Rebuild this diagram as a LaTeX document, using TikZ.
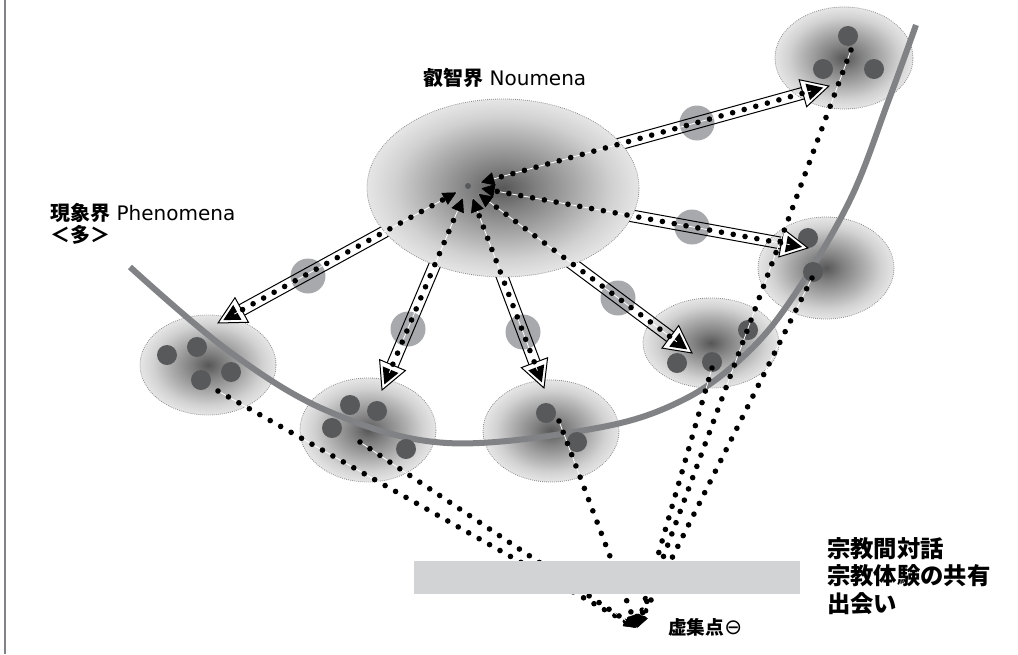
\documentclass[tikz,border=0pt]{standalone}
\usepackage{fontspec}
\setmainfont{DejaVu Sans}
\newfontfamily\jp{Noto Sans CJK JP}
\usetikzlibrary{arrows.meta,decorations.markings,calc}

\definecolor{pika}{HTML}{58595B}
\definecolor{krog}{HTML}{A7A9AC}
\definecolor{krivulja}{HTML}{808285}
\definecolor{pas}{HTML}{D1D3D4}

\pgfdeclareradialshading{megla}{\pgfpointorigin}{color(0bp)=(black!66); color(6bp)=(black!50); color(14bp)=(black!32); color(20bp)=(black!18); color(25bp)=(black!10); color(50bp)=(black!10)}

\tikzset{
  oblak/.style={shading=megla, draw=black!45, line width=0.6pt, dash pattern=on 0.6pt off 0.9pt},
  pikice/.style={line width=4.2pt, line cap=round, dash pattern=on 0pt off 9pt,
    preaction={draw=white, line width=0.6pt, solid, arrows=-}},
  puscica/.style={decoration={markings, mark=at position 0.9999 with {
      \pgfmathsetlengthmacro\dolzina{\pgfdecoratedpathlength}
      \draw[line width=0.75pt] (-\dolzina,4.4pt) -- (-20.25pt,4.4pt)
                               (-\dolzina,-4.4pt) -- (-20.25pt,-4.4pt);
      \draw[line width=0.75pt, fill=white] (0,0) -- (-27,14) -- (-27,-14) -- cycle;
      \fill (-6,0) -- (-22,8.5) -- (-22,-8.5) -- cycle;}}, decorate}
}

\begin{document}
\begin{tikzpicture}[x=0.75pt,y=-0.75pt]
\useasboundingbox (0,0) rectangle (1018,654);

\coordinate (nou) at (468,186);
\coordinate (t1) at (218,323);
\coordinate (t2) at (382,390);
\coordinate (t3) at (544,388);
\coordinate (t4) at (692,353);
\coordinate (t5) at (808,248);
\coordinate (t6) at (829,86);

% zacetki crt proti goriscu
\coordinate (z1) at (218,391);
\coordinate (z2) at (360,442);
\coordinate (z3) at (559,421);
\coordinate (z4) at (712,368);
\coordinate (z5) at (812,278);
\coordinate (z6) at (851,50);
\coordinate (f) at (637,628);

\draw[krivulja, line width=1.5pt] (5,0) -- (5,654);

\foreach \x/\y/\a/\b in {208/365/68/50, 368/430/68/52, 551/431/68/51, 711/343/68/45, 826/268/68/51, 844/58/69/51}
  \shadedraw[oblak] (\x,\y) ellipse ({\a} and {\b});

\draw[krivulja, line width=4.5pt] plot[smooth, tension=0.6] coordinates {(130,267) (230,352) (330,412) (447,443) (597,428) (683,400) (745,355) (793,297) (850,200) (888,102) (916,25)};

\foreach \p in {(167,355),(197,347),(201,380),(231,372),(350,405),(377,411),(332,428),(406,449),(546,413),(577,442),(677,363),(712,362),(748,330),(808,238),(813,272),(848,36),(823,69),(874,69)}
  \fill[pika] \p circle (10);

\foreach \p in {(308,276),(408,329),(523,332),(618,298),(697,123),(692,227)}
  \fill[krog] \p circle (17.5);

\foreach \i in {1,...,6}
  \path[puscica] (nou) -- (t\i);

\shadedraw[oblak] (503,188) ellipse (136 and 89);
\fill[pika] (nou) circle (3);

\foreach \i in {1,...,6}
  \draw[pikice, -{Triangle[length=10pt,width=10pt,line width=0.4pt]}] ($(t\i)!12pt!(nou)$) -- ($(nou)!10pt!(t\i)$);

\foreach \i in {1,...,6}
  \draw[pikice, -{Triangle[length=10pt,width=8pt,line width=0.4pt]}] (z\i) -- (f);

\fill[pas] (414,561) rectangle (800,594);

\node[anchor=west, inner sep=0, font=\fontsize{15}{18}\selectfont] (noumena) at (423,78) {{\jp\bfseries 叡智界} Noumena};
\node[anchor=west, inner sep=0, align=left, font=\fontsize{15}{17}\selectfont] (phenomena) at (50,224) {{\jp\bfseries 現象界} Phenomena\\{\jp\bfseries ＜多＞}};
\node[anchor=west, inner sep=0, align=left, font=\jp\bfseries\fontsize{17.5}{20.6}\selectfont] (dialog) at (827,576) {宗教間対話\\宗教体験の共有\\出会い};
\node[anchor=west, inner sep=0, font=\fontsize{14}{16}\selectfont] (gorisce) at (668,627) {{\jp\bfseries 虚集点}{\fontsize{16}{16}\selectfont ⊖}};
\end{tikzpicture}
\end{document}
